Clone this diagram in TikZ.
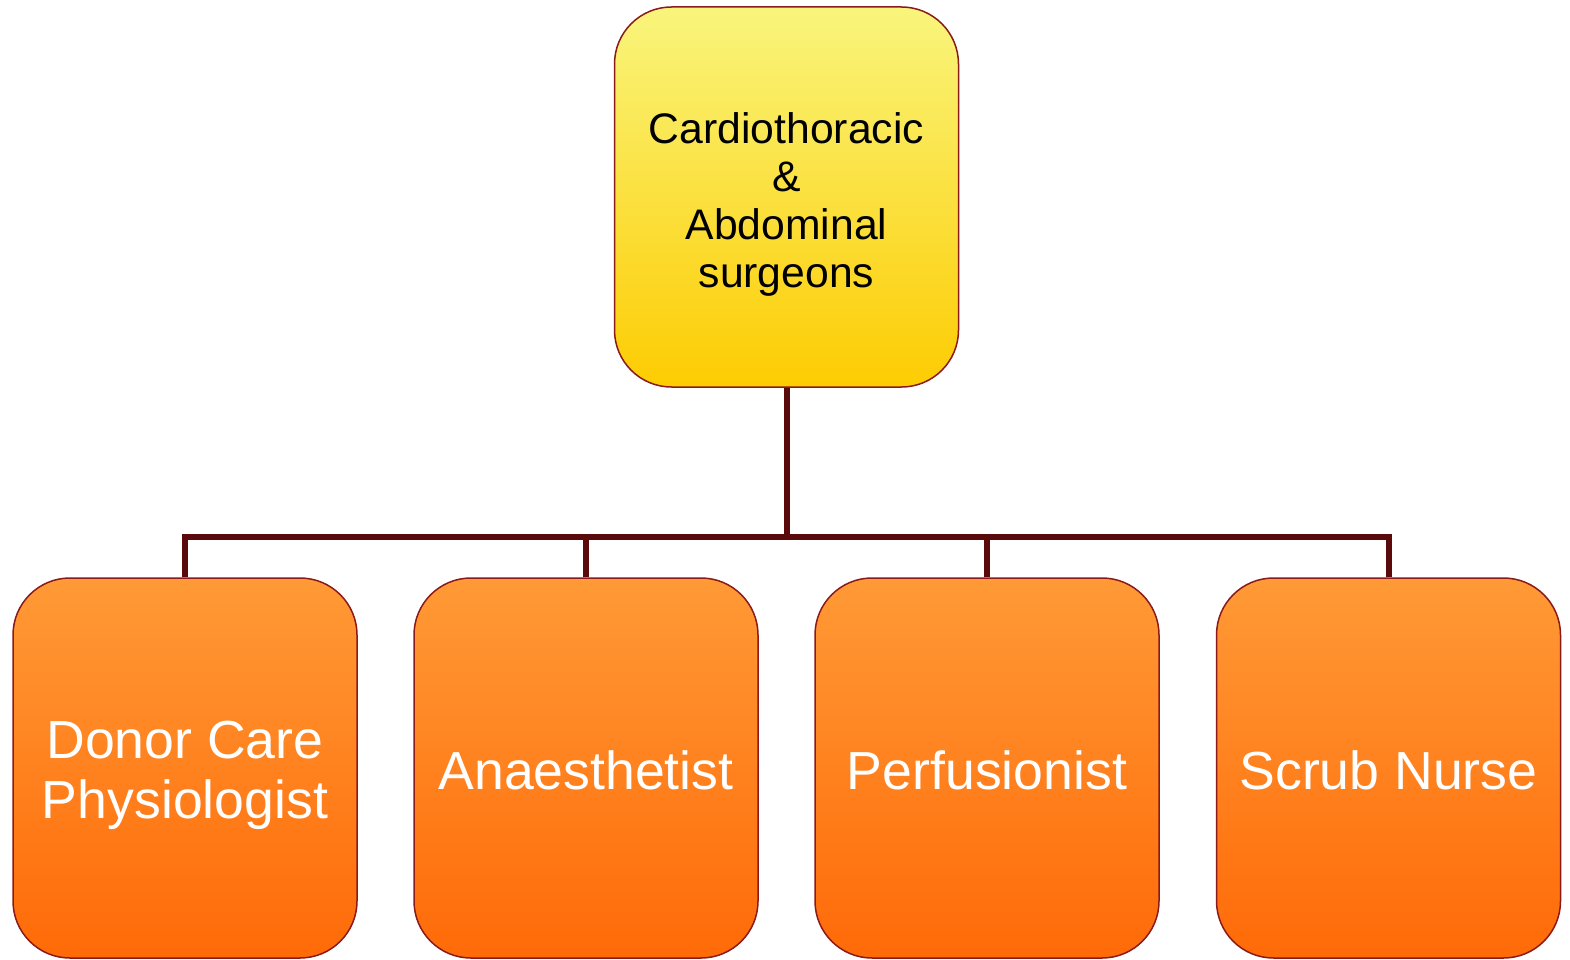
\documentclass[tikz,border=0pt]{standalone}
\usepackage{fontspec}
\setmainfont{Liberation Sans}
\definecolor{boxline}{HTML}{8B1A1A}
\definecolor{busline}{HTML}{5A0A0A}
\definecolor{headtop}{HTML}{F9F57C}
\definecolor{headbot}{HTML}{FDCC02}
\definecolor{roletop}{HTML}{FF9A36}
\definecolor{rolebot}{HTML}{FF6A08}
\begin{document}
\begin{tikzpicture}[x=1pt,y=-1pt,
        headbox/.style={draw=boxline,line width=1.5pt,rounded corners=57pt,minimum width=344pt,minimum height=380pt,top color=headtop,bottom color=headbot,align=center,font=\fontsize{42.7}{48}\selectfont},
        rolebox/.style={draw=boxline,line width=1.5pt,rounded corners=57pt,minimum width=344pt,minimum height=380pt,top color=roletop,bottom color=rolebot,text=white,align=center,font=\fontsize{53.6}{60}\selectfont},
        bus/.style={busline,line width=6pt,line join=miter}]
        \useasboundingbox (0,0) rectangle (1570,960);
        \node[headbox] (surg) at (786.5,197) {\rule{0pt}{45pt}Cardiothoracic\\\&\\Abdominal\\surgeons};
        \node[rolebox] (donor) at (185,768) {\rule{0pt}{53pt}Donor Care\\Physiologist};
        \node[rolebox] (anaes) at (586,768) {\rule{0pt}{43pt}Anaesthetist};
        \node[rolebox] (perf) at (987,768) {\rule{0pt}{43pt}Perfusionist};
        \node[rolebox] (scrub) at (1388.5,768) {\rule{0pt}{43pt}Scrub Nurse};
        \coordinate (split) at (786.5,537);
        \draw[bus] (surg.south) -- (split);
        \draw[bus] (donor.north) |- (split);
        \draw[bus] (anaes.north) |- (split);
        \draw[bus] (perf.north) |- (split);
        \draw[bus] (scrub.north) |- (split);
    \end{tikzpicture}
\end{document}
